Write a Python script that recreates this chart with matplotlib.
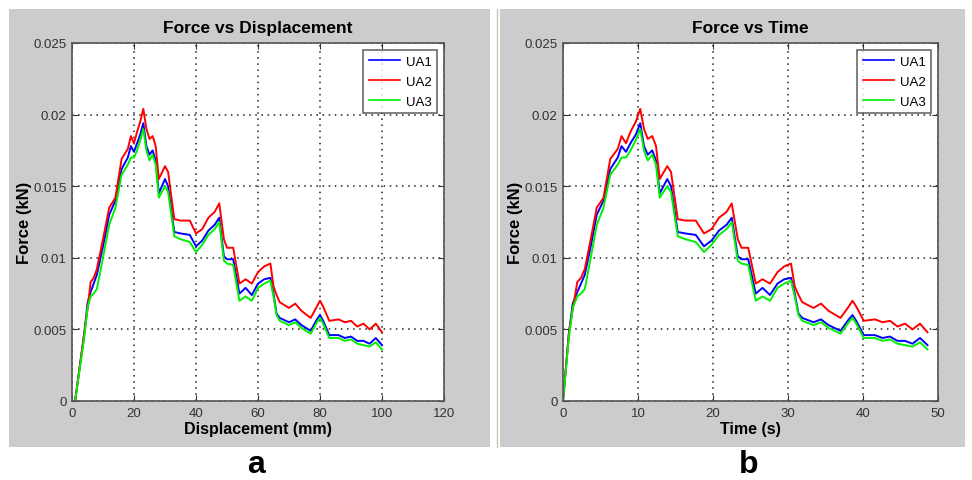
import matplotlib.pyplot as plt
from matplotlib.patches import Rectangle
from matplotlib.lines import Line2D
from matplotlib.ticker import FormatStrFormatter

plt.rcParams['font.family'] = ['Liberation Sans', 'DejaVu Sans']

# values
displacement = [1, 4, 5, 6, 7, 8, 10, 12, 14, 16, 18, 19, 20, 21, 22, 23, 24, 25, 26, 27,
                28, 30, 31, 33, 35, 38, 40, 42, 44, 46, 47.5, 49, 50, 52, 54, 56, 58, 60, 62, 64,
                65, 66, 67, 70, 72, 74, 77, 79, 80, 81, 83, 86, 88, 90, 92, 94, 96, 98, 100]
time_s = [0, 0.8, 1.3, 1.9, 2.4, 2.9, 3.7, 4.5, 5.4, 6.3, 7.3, 7.8, 8.4, 9.0, 9.7, 10.3, 10.8, 11.3, 11.9, 12.4,
          12.9, 13.9, 14.4, 15.3, 16.3, 17.7, 18.8, 19.8, 20.8, 21.8, 22.5, 23.3, 23.8, 24.7, 25.7, 26.6, 27.6, 28.6, 29.5, 30.4,
          30.9, 31.4, 31.9, 33.4, 34.4, 35.4, 37.0, 38.1, 38.6, 39.1, 40.1, 41.6, 42.6, 43.6, 44.6, 45.6, 46.6, 47.6, 48.6]

ua1 = [0, .0048, .0068, .0076, .0082, .0088, .0108, .0130, .0140, .0162, .0170, .0178, .0174, .0180, .0186,
       .0194, .0178, .0172, .0175, .0168, .0145, .0155, .0150, .0118, .0117, .0116, .0108, .0112, .0119, .0123,
       .0128, .0101, .0099, .0099, .0075, .0079, .0074, .0082, .0085, .0086, .0075, .0061, .0058, .0055, .0057,
       .0053, .0049, .0057, .0060, .0056, .0046, .0046, .0044, .0045, .0042, .0042, .0040, .0044, .0039]
ua2 = [0, .0048, .0064, .0083, .0086, .0092, .0113, .0135, .0142, .0169, .0176, .0185, .0180, .0188, .0195,
       .0204, .0190, .0183, .0185, .0178, .0155, .0164, .0160, .0127, .0126, .0126, .0117, .0120, .0128, .0132,
       .0138, .0113, .0107, .0107, .0082, .0085, .0082, .0090, .0094, .0096, .0080, .0074, .0069, .0065, .0068,
       .0063, .0058, .0066, .0070, .0066, .0056, .0057, .0055, .0056, .0052, .0054, .0050, .0054, .0048]
ua3 = [0, .0045, .0065, .0073, .0075, .0078, .0100, .0123, .0135, .0158, .0165, .0170, .0170, .0175, .0182,
       .0190, .0175, .0168, .0172, .0165, .0142, .0150, .0146, .0115, .0113, .0111, .0104, .0109, .0116, .0120,
       .0125, .0098, .0096, .0095, .0070, .0073, .0070, .0079, .0082, .0084, .0073, .0060, .0056, .0053, .0055,
       .0051, .0047, .0055, .0058, .0054, .0044, .0044, .0042, .0043, .0040, .0039, .0038, .0041, .0036]

series = [("UA1", ua1, "#0000ff"), ("UA2", ua2, "#ff0000"), ("UA3", ua3, "#00f000")]

fig = plt.figure(figsize=(9.72, 4.81), dpi=100)
fig.patch.set_facecolor("white")

# grey MATLAB-style figure backgrounds
fig.patches.append(Rectangle((9 / 972, 1 - 448 / 481), 481 / 972, 438 / 481,
                             transform=fig.transFigure, facecolor="#cccccc", edgecolor="none", zorder=-5))
fig.patches.append(Rectangle((500 / 972, 1 - 448 / 481), 465 / 972, 438 / 481,
                             transform=fig.transFigure, facecolor="#cccccc", edgecolor="none", zorder=-5))
fig.lines.append(Line2D([497 / 972, 497 / 972], [1 - 448 / 481, 1 - 10 / 481],
                        transform=fig.transFigure, color="#c4c8b4", lw=1, zorder=-5))


def draw_panel(rect, xdata, xmax, xticks, title, xlabel, letter, letter_x):
    ax = fig.add_axes(rect)
    ax.set_zorder(2)
    for name, y, c in series:
        ax.plot(xdata, y, color=c, lw=1.4, label=name)
    ax.set_xlim(0, xmax)
    ax.set_ylim(0, 0.025)
    ax.set_xticks(xticks)
    ax.set_yticks([0, 0.005, 0.01, 0.015, 0.02, 0.025])
    ax.yaxis.set_major_formatter(FormatStrFormatter('%g'))
    ax.grid(True, color="#222222", linestyle=(0, (1, 3)), lw=1.1)
    ax.tick_params(direction="in", length=4, top=True, right=True, labelsize=9.5,
                   colors="#333333", labelcolor="#333333", pad=4)
    for s in ax.spines.values():
        s.set_color("#555555")
        s.set_linewidth(1.2)
    ax.set_title(title, fontsize=12.5, fontweight="bold", pad=8)
    ax.set_xlabel(xlabel, fontsize=11.5, fontweight="bold", labelpad=2)
    ax.set_ylabel("Force (kN)", fontsize=12, fontweight="bold")
    ax.yaxis.set_label_coords((32 - 72) / 372, 0.5)
    leg = ax.legend(loc="upper right", fontsize=9.5, handlelength=2.4, fancybox=False,
                    borderaxespad=0.55, labelspacing=0.6, handletextpad=0.4, borderpad=0.4)
    leg.get_frame().set_edgecolor("#444444")
    leg.get_frame().set_linewidth(1.2)
    for ln in leg.get_lines():
        ln.set_linewidth(1.2)
    fig.text(letter_x, 1 - 465 / 481, letter, ha="center", va="center", fontsize=23,
             fontweight="bold")
    return ax


draw_panel([72 / 972, 1 - 402 / 481, 372 / 972, 358 / 481], displacement, 120,
           [0, 20, 40, 60, 80, 100, 120], "Force vs Displacement", "Displacement (mm)", "a", 256 / 972)
draw_panel([563 / 972, 1 - 402 / 481, 375 / 972, 358 / 481], time_s, 50,
           [0, 10, 20, 30, 40, 50], "Force vs Time", "Time (s)", "b", 749 / 972)

fig.savefig("out.png", dpi=100)
